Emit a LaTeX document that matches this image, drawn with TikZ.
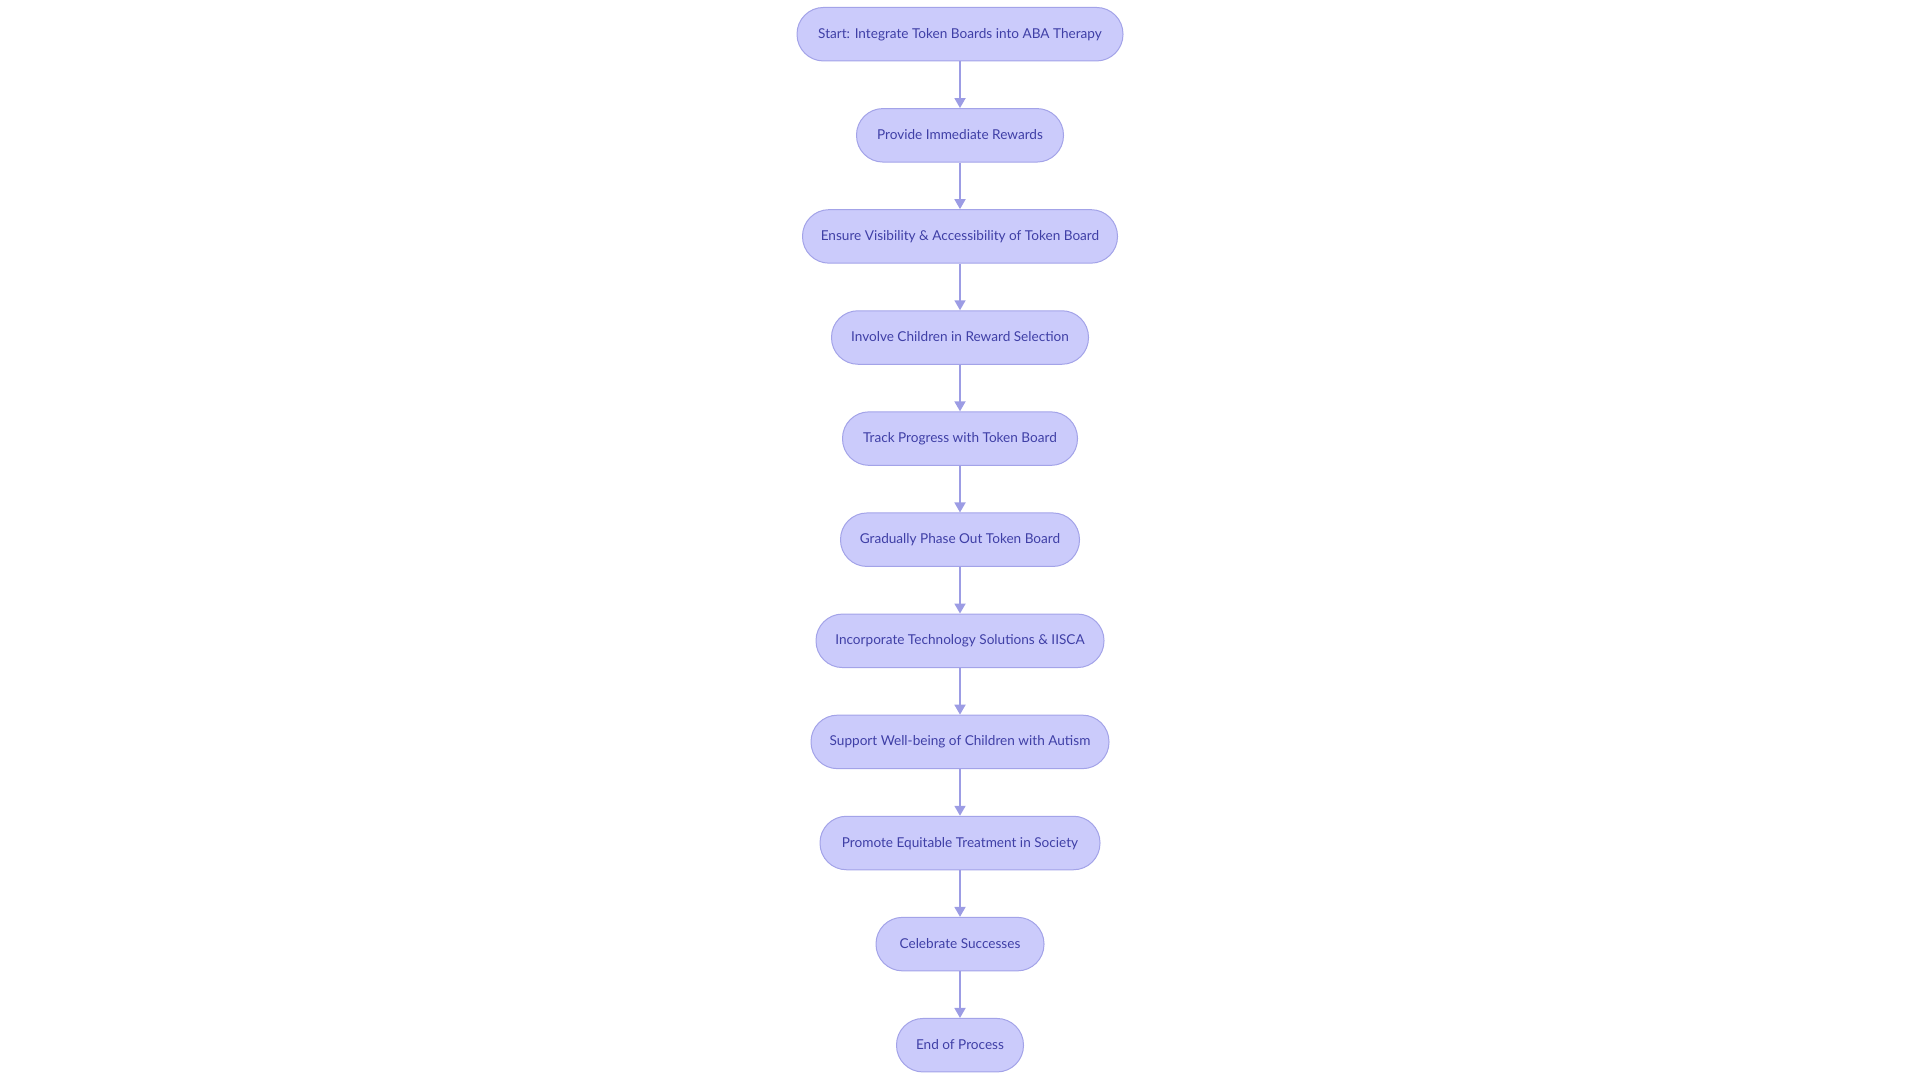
\documentclass[tikz,border=0pt]{standalone}
\usepackage{fontspec}
\setmainfont{Lato}
\usetikzlibrary{arrows.meta}
\definecolor{nodefill}{HTML}{CBCBFB}
\definecolor{nodedraw}{HTML}{A3A3E8}
\definecolor{edgecol}{HTML}{9C9CE4}
\definecolor{txtcol}{HTML}{3F3FA6}
\tikzset{
  flowbox/.style={draw=nodedraw, fill=nodefill, line width=1pt, rounded corners=26.5pt,
    minimum height=53.5pt, inner sep=0pt, text=txtcol,
    text height=10pt, text depth=2pt,
    font=\fontsize{13.6}{16}\selectfont},
  flowarrow/.style={draw=edgecol, line width=1.8pt, -{Triangle[length=10pt,width=11pt]}, shorten >=0pt}
}
\begin{document}
\begin{tikzpicture}[x=1pt,y=-1pt]
\useasboundingbox (0,0) rectangle (1920,1080);
\node[flowbox, minimum width=326pt] (n1) at (960,34.2) {Start: Integrate Token Boards into ABA Therapy};
\node[flowbox, minimum width=207pt] (n2) at (960,135.3) {Provide Immediate Rewards};
\node[flowbox, minimum width=315pt] (n3) at (960,236.4) {Ensure Visibility \& Accessibility of Token Board};
\node[flowbox, minimum width=257pt] (n4) at (960,337.5) {Involve Children in Reward Selection};
\node[flowbox, minimum width=235pt] (n5) at (960,438.6) {Track Progress with Token Board};
\node[flowbox, minimum width=239pt] (n6) at (960,539.7) {Gradually Phase Out Token Board};
\node[flowbox, minimum width=288pt] (n7) at (960,640.8) {Incorporate Technology Solutions \& IISCA};
\node[flowbox, minimum width=298pt] (n8) at (960,741.9) {Support Well-being of Children with Autism};
\node[flowbox, minimum width=280pt] (n9) at (960,843.0) {Promote Equitable Treatment in Society};
\node[flowbox, minimum width=168pt] (n10) at (960,944.1) {Celebrate Successes};
\node[flowbox, minimum width=127pt] (n11) at (960,1045.2) {End of Process};
\foreach \a/\b in {n1/n2,n2/n3,n3/n4,n4/n5,n5/n6,n6/n7,n7/n8,n8/n9,n9/n10,n10/n11}
  \draw[flowarrow] (\a.south) -- (\b.north);
\end{tikzpicture}
\end{document}
